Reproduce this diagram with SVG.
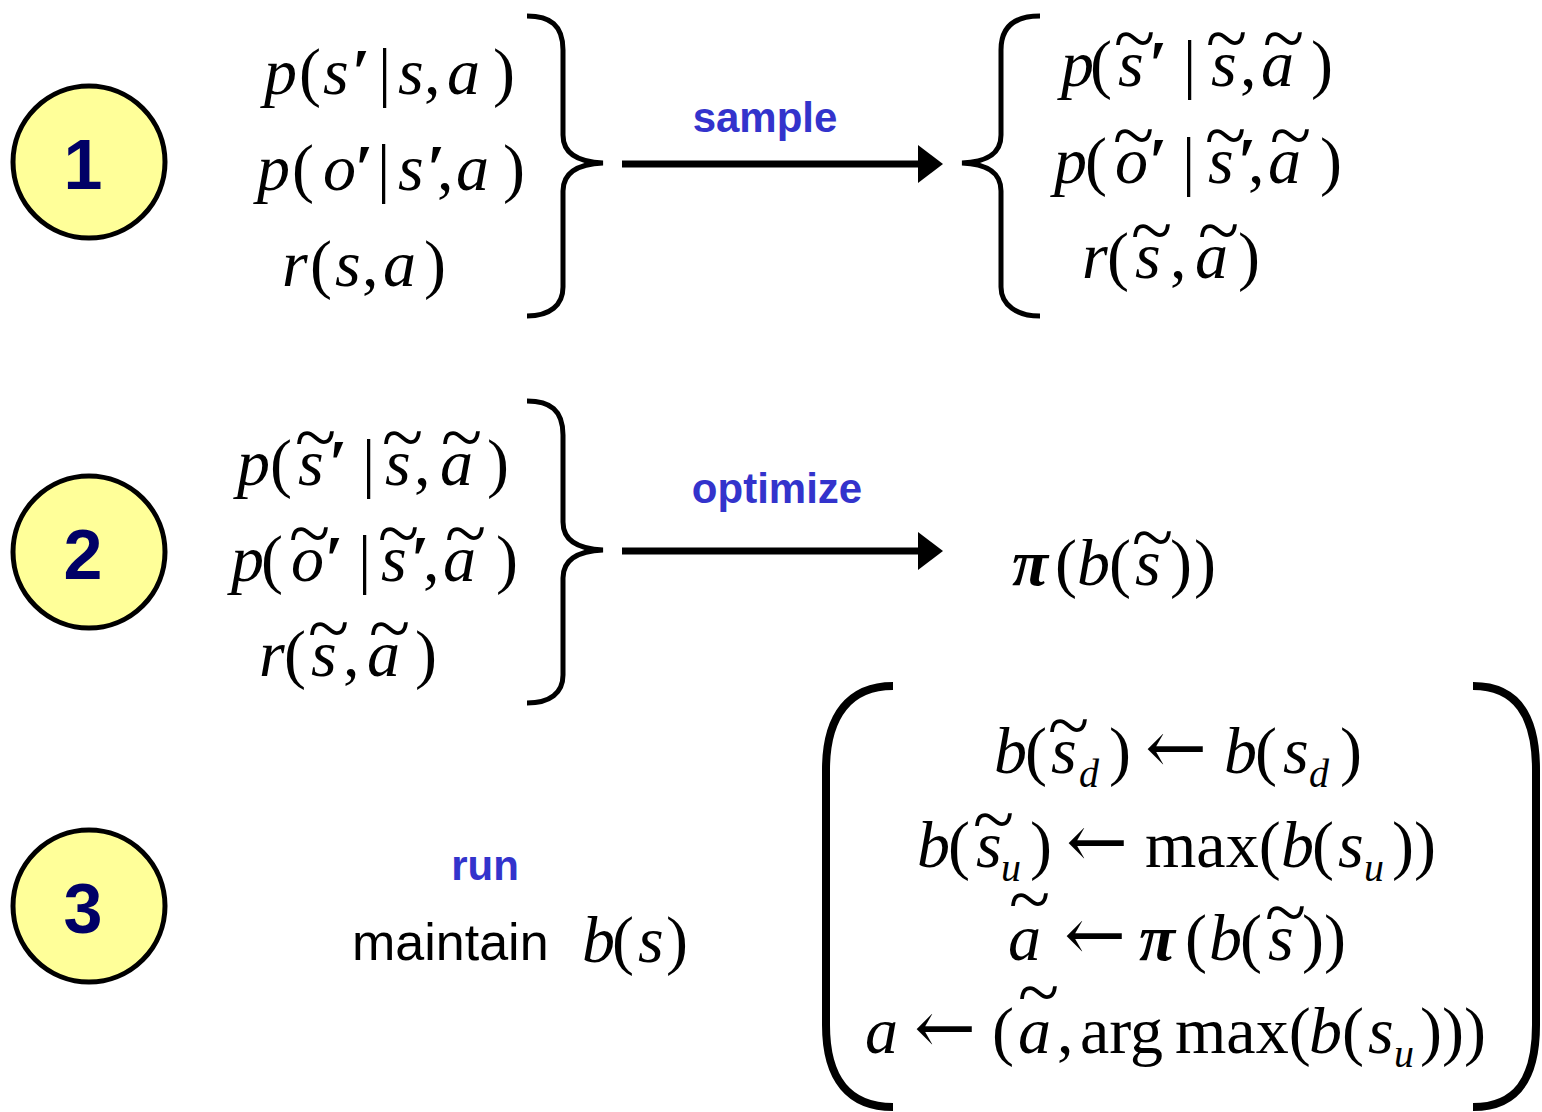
<svg xmlns="http://www.w3.org/2000/svg" width="1542" height="1112" viewBox="0 0 1542 1112">
<style>
.bg{fill:#ffffff}
.step circle{fill:#FFFF99;stroke:#000;stroke-width:5}
.num{font-family:"Liberation Sans",Arial,sans-serif;font-weight:bold;font-size:70px;fill:#000066;text-anchor:middle}
.m{font-family:"Liberation Serif","Times New Roman",serif;font-size:66px;font-style:italic;fill:#000}
.u{font-style:normal}
.bi{font-weight:bold}
.pr{font-weight:bold}
.sub{font-size:40px}
.tl{font-size:76px;font-style:normal}
.ar{font-family:"DejaVu Serif",serif;font-size:74px;font-style:normal}
.lbl{font-family:"Liberation Sans",Arial,sans-serif;font-weight:bold;font-size:42px;fill:#3333CC;text-anchor:middle}
.txt{font-family:"Liberation Sans",Arial,sans-serif;font-size:52px;fill:#000}
.br{fill:none;stroke:#000;stroke-width:5}
.bb{fill:none;stroke:#000;stroke-width:8}
.arr line{stroke:#000;stroke-width:7}
.arr polygon{fill:#000}
</style>
<rect class="bg" x="0" y="0" width="1542" height="1112"/>

<g id="step1" class="step"><circle cx="89" cy="162" r="76"/><text class="num" x="83" y="189">1</text></g>
<g id="step2" class="step"><circle cx="89" cy="552" r="76"/><text class="num" x="83" y="579">2</text></g>
<g id="step3" class="step"><circle cx="89" cy="906" r="76"/><text class="num" x="83" y="933">3</text></g>

<g id="model-true">
<text class="m" y="94"><tspan x="264">p</tspan><tspan class="u" x="299">(</tspan><tspan x="323">s</tspan><tspan class="pr" x="351">′</tspan><tspan class="u" x="378">|</tspan><tspan x="398">s</tspan><tspan class="u" x="424">,</tspan><tspan x="447">a</tspan><tspan class="u" x="493">)</tspan></text>
<text class="m" y="190"><tspan x="257">p</tspan><tspan class="u" x="292">(</tspan><tspan x="323">o</tspan><tspan class="pr" x="354">′</tspan><tspan class="u" x="377">|</tspan><tspan x="398">s</tspan><tspan class="pr" x="426">′</tspan><tspan class="u" x="437">,</tspan><tspan x="456">a</tspan><tspan class="u" x="503">)</tspan></text>
<text class="m" y="286"><tspan x="282">r</tspan><tspan class="u" x="310">(</tspan><tspan x="335">s</tspan><tspan class="u" x="362">,</tspan><tspan x="383">a</tspan><tspan class="u" x="424">)</tspan></text>
<path class="br" d="M527 16 C550 16 563 25 563 50 L563 135 C563 155 580 162 603 163 C580 164 563 171 563 191 L563 287 C563 305 550 316 527 316"/>
</g>

<g id="model-sampled">
<path class="br" d="M1040 16 C1017 16 1001 25 1001 50 L1001 135 C1001 155 985 162 962 163 C985 164 1001 171 1001 191 L1001 287 C1001 305 1017 316 1040 316"/>
<text class="m" y="86"><tspan x="1061">p</tspan><tspan class="u" x="1090">(</tspan><tspan x="1118">s</tspan><tspan class="pr" x="1148">′</tspan><tspan class="u" x="1183">|</tspan><tspan x="1211">s</tspan><tspan class="u" x="1240">,</tspan><tspan x="1261">a</tspan><tspan class="u" x="1311">)</tspan><tspan class="tl" x="1114" y="64">~</tspan><tspan class="tl" x="1206" y="64">~</tspan><tspan class="tl" x="1263" y="64">~</tspan></text>
<text class="m" y="183"><tspan x="1054">p</tspan><tspan class="u" x="1085">(</tspan><tspan x="1115">o</tspan><tspan class="pr" x="1148">′</tspan><tspan class="u" x="1182">|</tspan><tspan x="1208">s</tspan><tspan class="pr" x="1237">′</tspan><tspan class="u" x="1248">,</tspan><tspan x="1268">a</tspan><tspan class="u" x="1320">)</tspan><tspan class="tl" x="1113" y="161">~</tspan><tspan class="tl" x="1205" y="161">~</tspan><tspan class="tl" x="1270" y="161">~</tspan></text>
<text class="m" y="278"><tspan x="1082">r</tspan><tspan class="u" x="1107">(</tspan><tspan x="1135">s</tspan><tspan class="u" x="1170">,</tspan><tspan x="1195">a</tspan><tspan class="u" x="1238">)</tspan><tspan class="tl" x="1131" y="256">~</tspan><tspan class="tl" x="1198" y="256">~</tspan></text>
</g>

<g id="model-sampled-2">
<text class="m" y="485"><tspan x="237">p</tspan><tspan class="u" x="270">(</tspan><tspan x="298">s</tspan><tspan class="pr" x="328">′</tspan><tspan class="u" x="362">|</tspan><tspan x="385">s</tspan><tspan class="u" x="414">,</tspan><tspan x="440">a</tspan><tspan class="u" x="487">)</tspan><tspan class="tl" x="295" y="463">~</tspan><tspan class="tl" x="382" y="463">~</tspan><tspan class="tl" x="441" y="463">~</tspan></text>
<text class="m" y="581"><tspan x="231">p</tspan><tspan class="u" x="261">(</tspan><tspan x="291">o</tspan><tspan class="pr" x="324">′</tspan><tspan class="u" x="358">|</tspan><tspan x="381">s</tspan><tspan class="pr" x="410">′</tspan><tspan class="u" x="423">,</tspan><tspan x="443">a</tspan><tspan class="u" x="496">)</tspan><tspan class="tl" x="289" y="559">~</tspan><tspan class="tl" x="378" y="559">~</tspan><tspan class="tl" x="445" y="559">~</tspan></text>
<text class="m" y="676"><tspan x="259">r</tspan><tspan class="u" x="284">(</tspan><tspan x="311">s</tspan><tspan class="u" x="343">,</tspan><tspan x="367">a</tspan><tspan class="u" x="415">)</tspan><tspan class="tl" x="308" y="654">~</tspan><tspan class="tl" x="369" y="654">~</tspan></text>
<path class="br" d="M527 401 C550 401 563 410 563 435 L563 522 C563 542 580 549 603 550 C580 551 563 558 563 578 L563 675 C563 693 550 703 527 703"/>
</g>

<g id="policy">
<text class="m" y="585"><tspan class="bi" x="1012">π</tspan><tspan class="u" x="1055">(</tspan><tspan x="1077">b</tspan><tspan class="u" x="1109">(</tspan><tspan x="1135">s</tspan><tspan class="u" x="1170">)</tspan><tspan class="u" x="1194">)</tspan><tspan class="tl" x="1132" y="563">~</tspan></text>
</g>

<g id="maintain">
<text class="lbl" x="485" y="880">run</text>
<text class="txt" x="352" y="960">maintain</text>
<text class="m" y="962"><tspan x="582">b</tspan><tspan class="u" x="612">(</tspan><tspan x="638">s</tspan><tspan class="u" x="666">)</tspan></text>
</g>

<g id="run-loop">
<path class="bb" d="M893 686 C850 686 826 715 826 770 L826 1025 C826 1080 850 1107 893 1107"/>
<path class="bb" d="M1473 686 C1516 686 1536 715 1536 770 L1536 1025 C1536 1080 1516 1107 1473 1107"/>
<text class="m" y="773"><tspan x="994">b</tspan><tspan class="u" x="1025">(</tspan><tspan x="1051">s</tspan><tspan class="sub" x="1079" y="787">d</tspan><tspan class="u" x="1109" y="773">)</tspan><tspan class="ar" x="1145">←</tspan><tspan x="1224">b</tspan><tspan class="u" x="1255">(</tspan><tspan x="1283">s</tspan><tspan class="sub" x="1309" y="787">d</tspan><tspan class="u" x="1340" y="773">)</tspan><tspan class="tl" x="1048" y="751">~</tspan></text>
<text class="m" y="867"><tspan x="917">b</tspan><tspan class="u" x="948">(</tspan><tspan x="976">s</tspan><tspan class="sub" x="1001" y="881">u</tspan><tspan class="u" x="1030" y="867">)</tspan><tspan class="ar" x="1066">←</tspan><tspan class="u" x="1145">max(</tspan><tspan x="1281">b</tspan><tspan class="u" x="1312">(</tspan><tspan x="1338">s</tspan><tspan class="sub" x="1364" y="881">u</tspan><tspan class="u" x="1392" y="867">))</tspan><tspan class="tl" x="973" y="845">~</tspan></text>
<text class="m" y="960"><tspan x="1008">a</tspan><tspan class="ar" x="1064">←</tspan><tspan class="bi" x="1139">π</tspan><tspan class="u" x="1185">(</tspan><tspan x="1209">b</tspan><tspan class="u" x="1240">(</tspan><tspan x="1268">s</tspan><tspan class="u" x="1302">))</tspan><tspan class="tl" x="1009" y="925">~</tspan><tspan class="tl" x="1265" y="938">~</tspan></text>
<text class="m" y="1053"><tspan x="865">a</tspan><tspan class="ar" x="914">←</tspan><tspan class="u" x="992">(</tspan><tspan x="1018">a</tspan><tspan class="u" x="1057">,</tspan><tspan class="u" x="1080">arg</tspan><tspan class="u" x="1175">max(</tspan><tspan x="1309">b</tspan><tspan class="u" x="1342">(</tspan><tspan x="1368">s</tspan><tspan class="sub" x="1394" y="1067">u</tspan><tspan class="u" x="1420" y="1053">)))</tspan><tspan class="tl" x="1018" y="1018">~</tspan></text>
</g>

<g id="connectors" class="arr">
<line x1="622" y1="164" x2="920" y2="164"/>
<polygon points="918,145 943,164 918,183"/>
<text class="lbl" x="765" y="132">sample</text>
<line x1="622" y1="551" x2="920" y2="551"/>
<polygon points="918,532 943,551 918,570"/>
<text class="lbl" x="777" y="503">optimize</text>
</g>
</svg>
